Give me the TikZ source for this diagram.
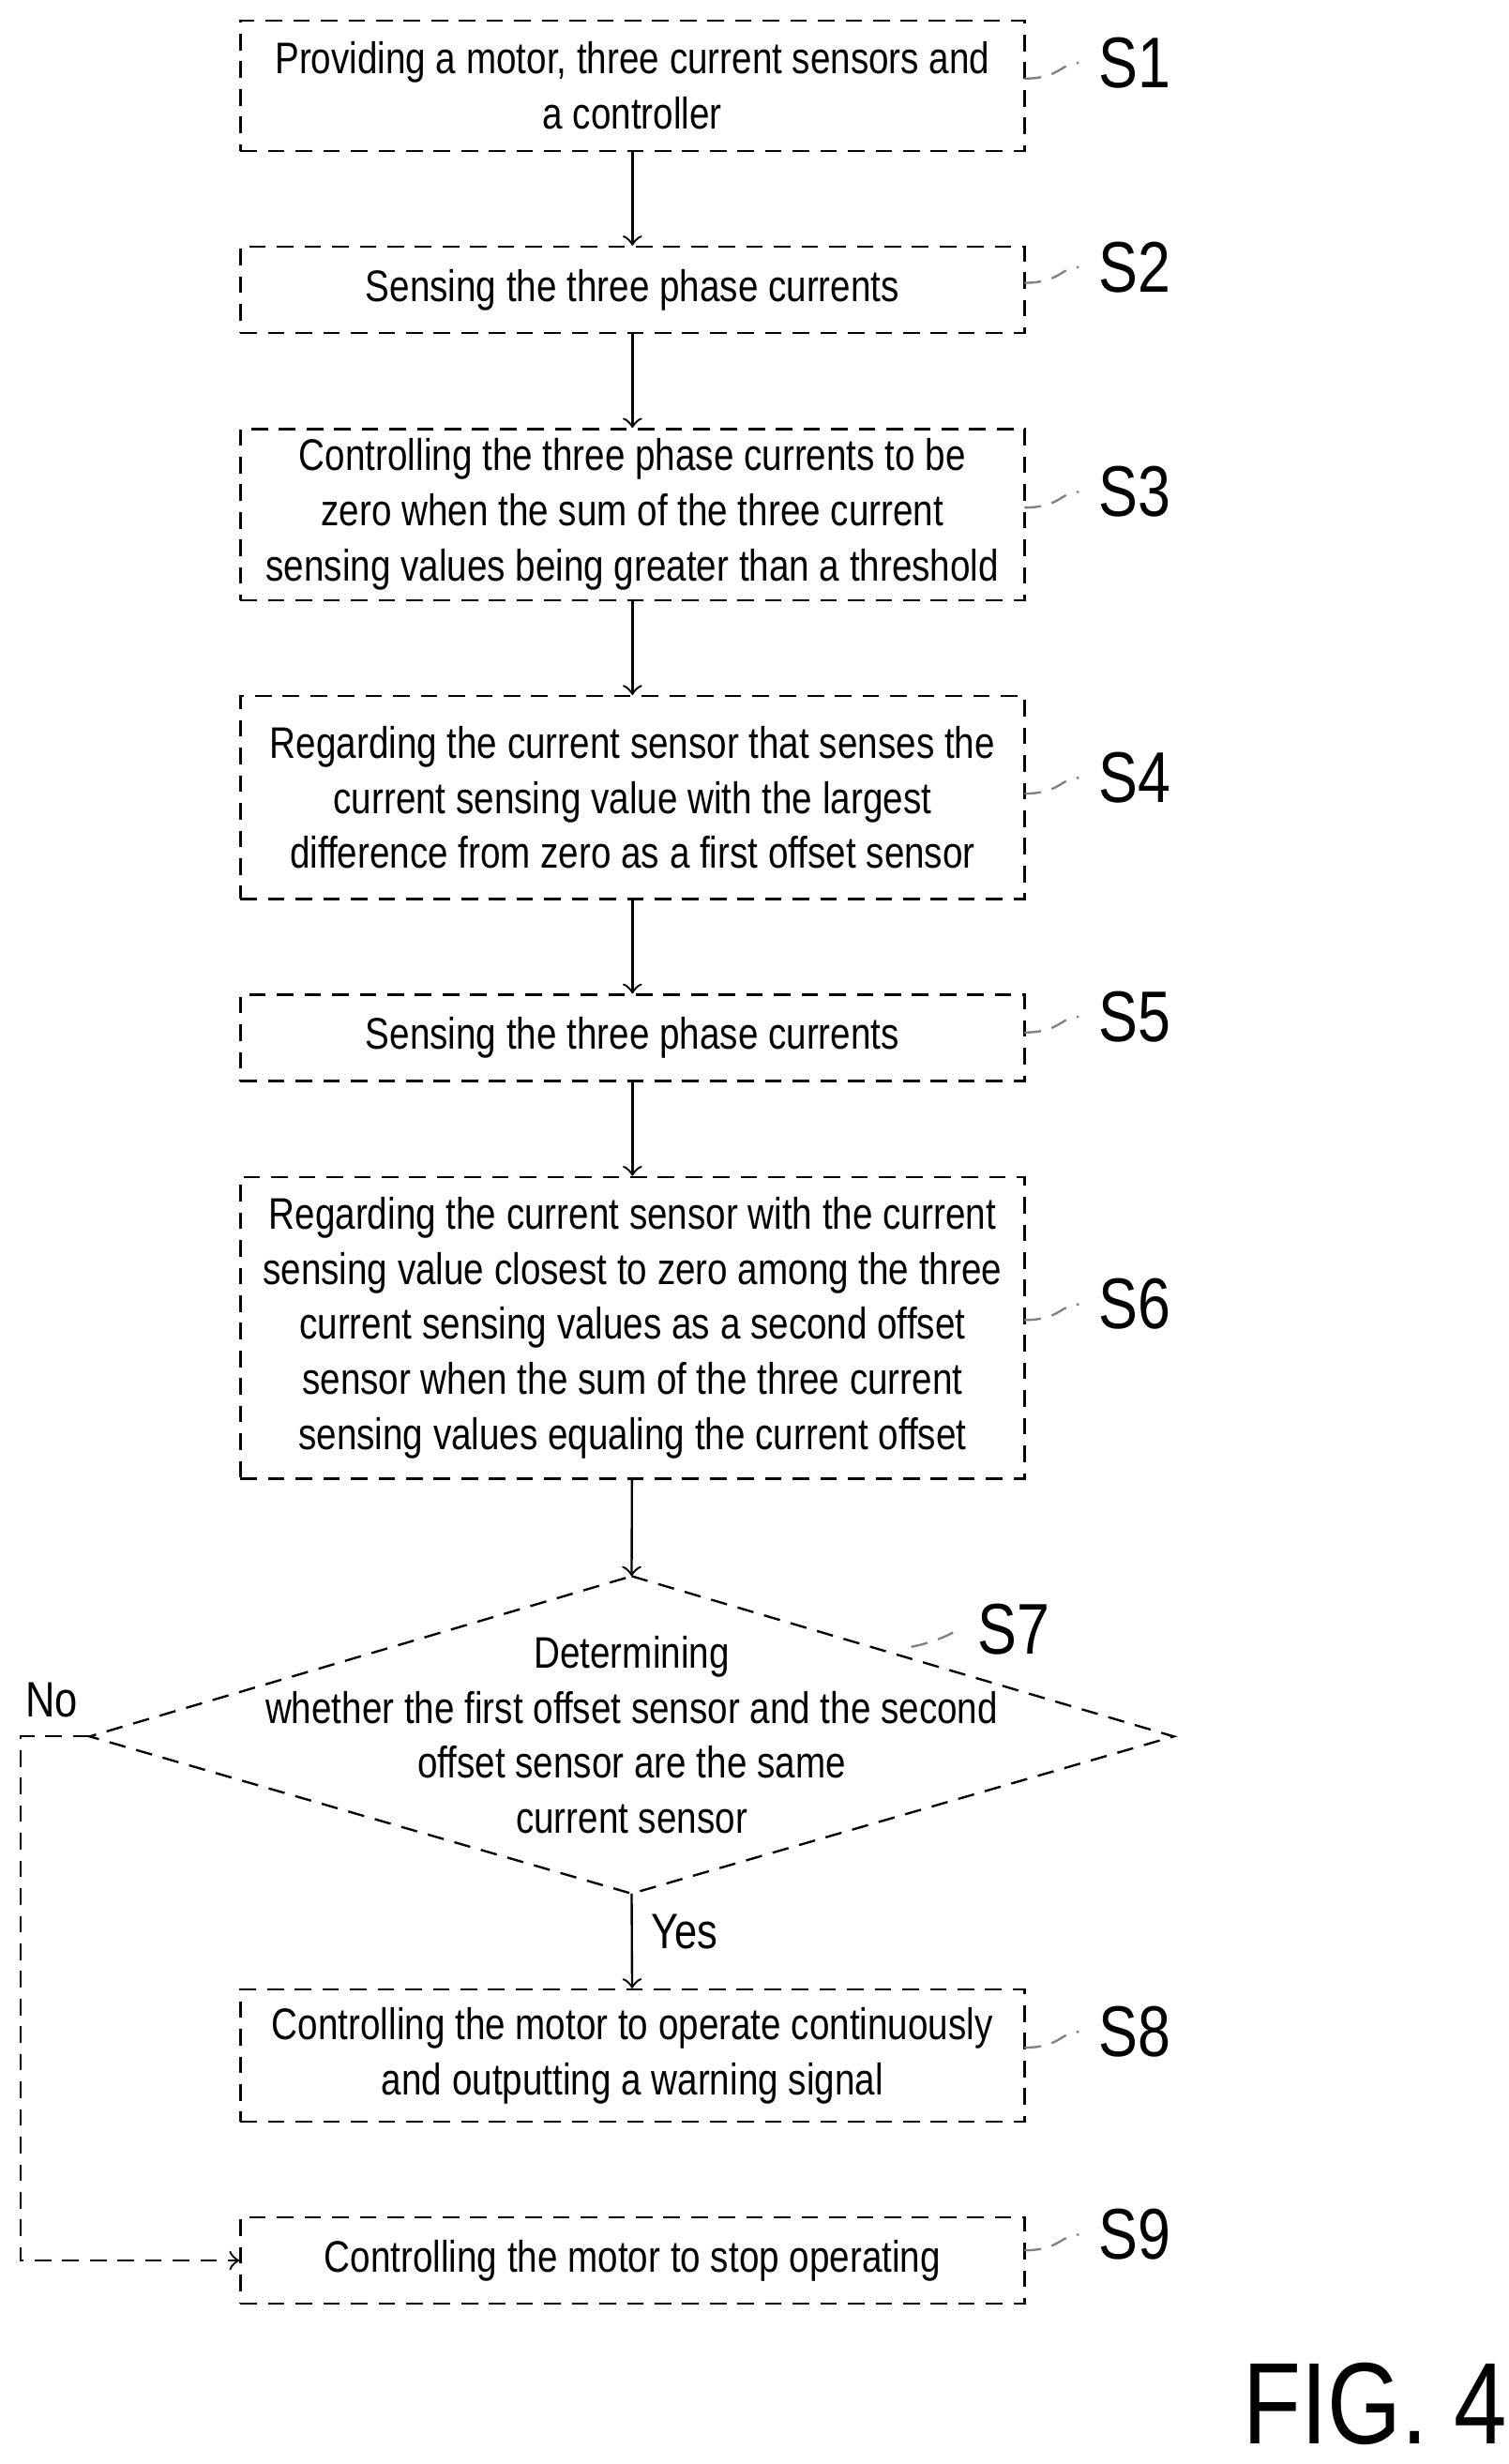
\documentclass[tikz,border=0pt]{standalone}
\usepackage{fontspec}
\setmainfont{Liberation Sans}[FakeStretch=0.82]
\usetikzlibrary{shapes.geometric,positioning}
\tikzset{
  stepbox/.style = {draw, densely dashed, thin, rectangle, minimum width=4.99cm, align=center, inner sep=1pt},
  test/.style = {align=center, inner sep=0pt},
  flow/.style = {->, thin},
  tag/.style = {gray, densely dashed, thin},
  every node/.style = {font=\fontsize{8}{10}\selectfont},
}

\begin{document}
\begin{tikzpicture}
 \useasboundingbox (0,0) rectangle (9.6,-15.68);

 \node[stepbox, minimum height=0.83cm] (s1) at (4.025,-0.545) {Providing a motor, three current sensors and\\a controller};
 \node[stepbox, minimum height=0.55cm] (s2) at (4.025,-1.845) {Sensing the three phase currents};
 \node[stepbox, minimum height=1.09cm] (s3) at (4.025,-3.275) {Controlling the three phase currents to be\\zero when the sum of the three current\\sensing values being greater than a threshold};
 \node[stepbox, minimum height=1.29cm] (s4) at (4.025,-5.075) {Regarding the current sensor that senses the\\current sensing value with the largest\\difference from zero as a first offset sensor};
 \node[stepbox, minimum height=0.55cm] (s5) at (4.025,-6.605) {Sensing the three phase currents};
 \node[stepbox, minimum height=1.92cm] (s6) at (4.025,-8.45) {Regarding the current sensor with the current\\sensing value closest to zero among the three\\current sensing values as a second offset\\sensor when the sum of the three current\\sensing values equaling the current offset};
 \node[test] (s7) at (4.02,-11.04) {Determining\\whether the first offset sensor and the second\\offset sensor are the same\\current sensor};
 \coordinate (d7n) at (4.02,-10.03);
 \coordinate (d7s) at (4.02,-12.05);
 \coordinate (d7w) at (0.57,-11.05);
 \coordinate (d7e) at (7.47,-11.05);
 \draw[densely dashed, thin] (d7n) -- (d7e) -- (d7s) -- (d7w) -- cycle;
 \node[stepbox, minimum height=0.84cm] (s8) at (4.025,-13.08) {Controlling the motor to operate continuously\\and outputting a warning signal};
 \node[stepbox, minimum height=0.55cm] (s9) at (4.025,-14.385) {Controlling the motor to stop operating};

 % step labels
 \foreach \s/\y in {1/-0.40, 2/-1.70, 3/-3.13, 4/-4.95, 5/-6.47, 6/-8.30, 8/-12.93, 9/-14.22} {
   \node[font=\fontsize{13}{13}\selectfont] (t\s) at (7.22,\y) {S\s};
   \draw[tag] (6.52,\y-0.1) .. controls (6.75,\y-0.1) and (6.75,\y) .. (t\s.west);
 }
 \node[font=\fontsize{13}{13}\selectfont] (t7) at (6.45,-10.37) {S7};
 \draw[tag] (5.8,-10.48) .. controls (5.95,-10.45) and (6.05,-10.40) .. (t7.west);

 \draw[flow] (s1) -- (s2);
 \draw[flow] (s2) -- (s3);
 \draw[flow] (s3) -- (s4);
 \draw[flow] (s4) -- (s5);
 \draw[flow] (s5) -- (s6);
 \draw[flow] (s6) -- (d7n);
 \draw[flow] (d7s) -- node[right, pos=0.4, font=\fontsize{9}{10}\selectfont] {Yes} (s8);
 \coordinate (c1) at (0.13,-11.05);
 \coordinate (c2) at (0.13,-14.385);
 \draw[flow, densely dashed] (d7w) -- (c1) -- (c2) -- (s9.west);
 \node[font=\fontsize{9}{10}\selectfont] (no) at (0.33,-10.82) {No};

 \node[font=\fontsize{21}{21}\selectfont] (fig) at (8.75,-15.3) {FIG. 4};
\end{tikzpicture}
\end{document}
